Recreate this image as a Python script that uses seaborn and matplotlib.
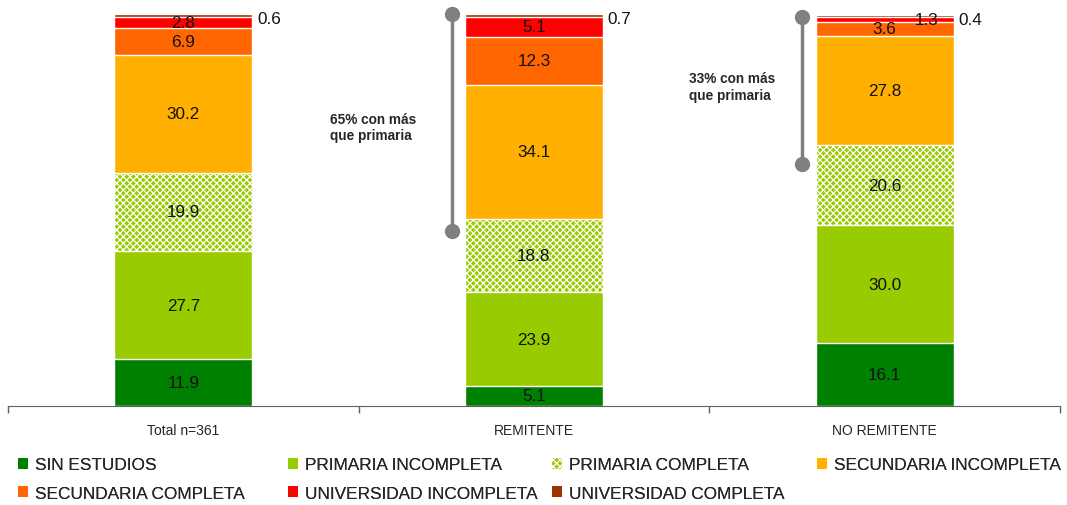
import numpy as np
import pandas as pd
import matplotlib
matplotlib.use("Agg")
from matplotlib import pyplot as plt
from matplotlib.patches import Patch
import seaborn as sns

# data (percent)
grupos = ["Total n=361", "REMITENTE", "NO REMITENTE"]
niveles = ["SIN ESTUDIOS", "PRIMARIA INCOMPLETA", "PRIMARIA COMPLETA",
           "SECUNDARIA INCOMPLETA", "SECUNDARIA COMPLETA",
           "UNIVERSIDAD INCOMPLETA", "UNIVERSIDAD COMPLETA"]
sin_estudios = [11.9, 5.1, 16.1]
primaria_inc = [27.7, 23.9, 30.0]
primaria_comp = [19.9, 18.8, 20.6]
secundaria_inc = [30.2, 34.1, 27.8]
secundaria_comp = [6.9, 12.3, 3.6]
universidad_inc = [2.8, 5.1, 1.3]
universidad_comp = [0.6, 0.7, 0.4]

# annotation brackets: group, top, bottom, text position, text
notas_grupo = [1, 2]
notas_top = [100.0, 99.2]
notas_bottom = [44.6, 61.7]
notas_tx = [0.417, 1.443]
notas_ty = [71.2, 81.6]
notas_texto = ["65% con más\nque primaria", "33% con más\nque primaria"]

colores = ["#008000", "#99CC00", "#99CC00", "#FFB000", "#FF6600", "#FF0000", "#993300"]

valores = np.array([sin_estudios, primaria_inc, primaria_comp, secundaria_inc,
                    secundaria_comp, universidad_inc, universidad_comp])
acum = valores.cumsum(axis=0)

sns.set_style("white")
plt.rcParams['font.family'] = ['Liberation Sans', 'DejaVu Sans']
plt.rcParams['hatch.linewidth'] = 0.9

fig = plt.figure(figsize=(10.67, 5.06), dpi=100)
ax = fig.add_axes([0.0075, 0.1957, 0.9859, 0.7743])

# stacked bars: draw cumulative totals from the top layer down
for k in range(len(niveles) - 1, -1, -1):
    df = pd.DataFrame({"grupo": grupos, "valor": acum[k]})
    sns.barplot(data=df, x="grupo", y="valor", color=colores[k], width=0.393,
                edgecolor="white", linewidth=1, saturation=1, ax=ax)
    if k == 2:
        for p in ax.containers[-1]:
            p.set_hatch("xxxxx")

# segment labels
for i in range(len(grupos)):
    for k in range(len(niveles)):
        v = valores[k, i]
        y = acum[k, i] - v / 2
        x = i
        ha = "center"
        if k == 6:
            x = i + 0.21
            y = acum[k, i] - 1.2
            ha = "left"
        elif k == 5 and i == 2:
            x = i + 0.12
        ax.text(x, y, f"{v:.1f}", ha=ha, va="center", fontsize=12.3, color="#111111")

# brackets
for g, t, b in zip(notas_grupo, notas_top, notas_bottom):
    xl = g - 0.235
    ax.plot([xl, xl], [b, t], color="#808080", lw=2.5, marker="o",
            markersize=10, solid_capstyle="butt", clip_on=False)
for tx, ty, txt in zip(notas_tx, notas_ty, notas_texto):
    ax.text(tx, ty, txt, ha="left", va="center", fontsize=9.8,
            fontweight="bold", linespacing=1.25)

ax.set_xlim(-0.5, 2.5)
ax.set_ylim(0, 100)
ax.set_xlabel("")
ax.set_ylabel("")
ax.set_yticks([])
for s in ["top", "right", "left"]:
    ax.spines[s].set_visible(False)
ax.spines["bottom"].set_color("#606060")
ax.tick_params(axis="x", which="major", length=0, labelsize=10, pad=12)
ax.set_xticks([-0.5, 0.5, 1.5, 2.5], minor=True)
ax.tick_params(axis="x", which="minor", bottom=True, length=5, width=1,
               direction="out", color="#606060")

# legend, four evenly spaced columns
handles = []
for k in range(len(niveles)):
    if k == 2:
        handles.append(Patch(facecolor=colores[k], edgecolor="white", hatch="xxxxx", lw=0))
    else:
        handles.append(Patch(facecolor=colores[k], edgecolor="none"))
col_x = [0.010, 0.263, 0.511, 0.759]
for j in range(4):
    idx = [j] + ([j + 4] if j + 4 < len(niveles) else [])
    leg = fig.legend([handles[i] for i in idx], [niveles[i] for i in idx],
                     loc="upper left", bbox_to_anchor=(col_x[j], 0.108),
                     frameon=False, fontsize=12.4, handlelength=0.6, handleheight=0.6,
                     handletextpad=0.4, labelspacing=0.8, borderaxespad=0)
    fig.add_artist(leg)

fig.savefig("out.png", dpi=100)
